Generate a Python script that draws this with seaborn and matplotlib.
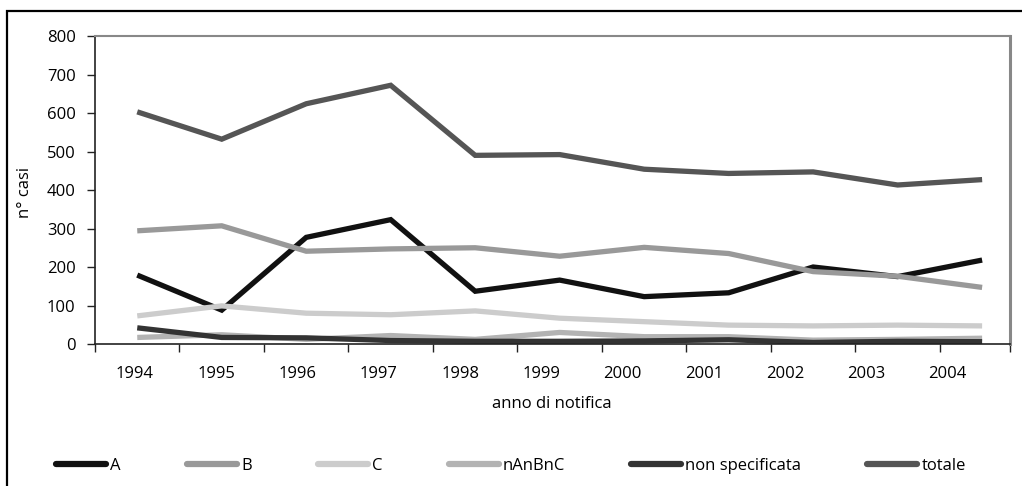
import numpy as np
import pandas as pd
import matplotlib
matplotlib.use("Agg")
import matplotlib.pyplot as plt
from matplotlib.patches import Rectangle
from matplotlib.lines import Line2D
import seaborn as sns

years = ["1994", "1995", "1996", "1997", "1998", "1999", "2000", "2001", "2002", "2003", "2004"]
A = [179, 88, 277, 323, 137, 166, 123, 133, 200, 175, 218]
B = [294, 307, 241, 247, 250, 228, 251, 235, 188, 176, 147]
C = [73, 99, 80, 76, 86, 67, 58, 49, 47, 49, 47]
nAnBnC = [17, 24, 12, 22, 12, 30, 19, 19, 10, 12, 15]
non_spec = [42, 17, 16, 9, 7, 7, 8, 11, 4, 7, 6]
totale = [603, 532, 624, 672, 490, 492, 454, 443, 447, 413, 427]

series_names = ["A", "B", "C", "nAnBnC", "non specificata", "totale"]
series_vals = [A, B, C, nAnBnC, non_spec, totale]
colors = ["#111111", "#999999", "#cccccc", "#b3b3b3", "#333333", "#555555"]

rows = []
for name, vals in zip(series_names, series_vals):
    for i, v in enumerate(vals):
        rows.append({"pos": i, "anno": years[i], "serie": name, "casi": v})
df = pd.DataFrame(rows)

sns.set_theme(style="white")
plt.rcParams["font.family"] = ["Open Sans", "DejaVu Sans"]
plt.rcParams["text.color"] = "black"
plt.rcParams["xtick.color"] = "black"
plt.rcParams["ytick.color"] = "black"
fs = 12

fig = plt.figure(figsize=(10.22, 4.86), dpi=100)
ax = fig.add_axes([95 / 1022, 1 - 344 / 486, (1010 - 95) / 1022, (344 - 36) / 486])

sns.lineplot(data=df, x="pos", y="casi", hue="serie", hue_order=series_names,
             palette=dict(zip(series_names, colors)), linewidth=3.8, ax=ax,
             legend=False, sort=False, estimator=None)
for ln in ax.get_lines():
    ln.set_solid_capstyle("butt")
    ln.set_solid_joinstyle("miter")

xmax = 10.33
ax.set_xlim(-0.5, xmax)
ax.set_ylim(0, 800)
ax.set_yticks(np.arange(0, 801, 100))
ax.tick_params(axis="y", which="major", direction="out", length=6, width=1,
               color="#222222", labelsize=fs, pad=8, left=True, labelcolor="black")
ax.set_xticks([i - 0.5 for i in range(len(years))] + [xmax], minor=True)
label_pos = [-0.027 + 0.962 * i for i in range(len(years))]
ax.set_xticks(label_pos)
ax.set_xticklabels(years)
ax.tick_params(axis="x", which="major", length=0, labelsize=fs, pad=16, labelcolor="black")
ax.tick_params(axis="x", which="minor", direction="out", length=6, width=1,
               color="#222222", bottom=True)
ax.set_xlabel("")
ax.set_ylabel("")

for s in ["left", "bottom"]:
    ax.spines[s].set_color("#222222")
    ax.spines[s].set_linewidth(1.2)
ax.spines["top"].set_color("#888888")
ax.spines["top"].set_linewidth(1.5)
ax.spines["right"].set_color("#888888")
ax.spines["right"].set_linewidth(2.2)
ax.set_zorder(2)

fig.text(25 / 1022, 1 - 192 / 486, "n° casi", rotation=90, ha="center", va="center", fontsize=fs)
fig.text(552 / 1022, 1 - 404 / 486, "anno di notifica", ha="center", va="center", fontsize=fs)

handles = [Line2D([0], [0], color=c, linewidth=4.5, solid_capstyle="round") for c in colors]
fig.legend(handles, series_names, loc="center", ncol=6, mode="expand",
           bbox_to_anchor=(56 / 1022, 1 - 476 / 486, (966 - 56) / 1022, 20 / 486),
           frameon=False, fontsize=fs, handlelength=3.0, handletextpad=0.25,
           borderaxespad=0, borderpad=0)

top = 1 - 11 / 486
fig.patches.append(Rectangle((7 / 1022, -0.2), 1.2, top + 0.2,
                             transform=fig.transFigure, fill=False,
                             edgecolor="black", linewidth=1.6))

fig.savefig("out.png", dpi=100, facecolor="white")
